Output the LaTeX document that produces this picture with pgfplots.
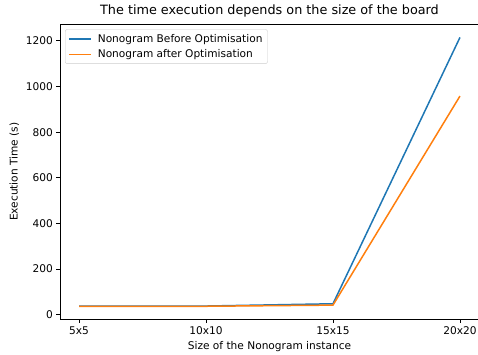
\documentclass[border=0pt]{standalone}
\usepackage{fontspec}
\setmainfont{DejaVu Sans}
\usepackage{pgfplots}
\pgfplotsset{compat=1.18}
\definecolor{mplblue}{HTML}{1F77B4}
\definecolor{mplorange}{HTML}{FF7F0E}
\begin{document}
\begin{tikzpicture}[x=1pt,y=1pt]
\begin{axis}[
  at={(0,0)}, anchor=south west,
  scale only axis, width=419pt, height=295.5pt,
  xmin=-0.15, xmax=3.15, ymin=-21, ymax=1274,
  xtick={0,1,2,3}, xticklabels={5x5,10x10,15x15,20x20},
  ytick={0,200,400,600,800,1000,1200},
  tick align=outside, tick pos=left,
  major tick length=3.5pt,
  tick style={black, line width=0.8pt},
  axis line style={line width=0.8pt},
  /pgf/number format/assume math mode=true,
  /pgf/number format/1000 sep={},
  tick label style={font=\fontsize{10.6}{12}\selectfont},
  label style={font=\fontsize{10.6}{12}\selectfont},
  xlabel={Size of the Nonogram instance},
  ylabel={Execution Time (s)},
  title={The time execution depends on the size of the board},
  title style={font=\fontsize{12.8}{15}\selectfont, yshift=-3pt},
  legend cell align=left,
  legend style={font=\fontsize{10.6}{12}\selectfont, draw=black!20, rounded corners=2pt, at={(0.012,0.982)}, anchor=north west, inner xsep=3pt, inner ysep=2.5pt, row sep=2pt, column sep=4pt},
  legend image code/.code={\draw[#1, line width=1.6pt] (0pt,0pt) -- (22pt,0pt);},
]
\addplot[mplblue, line width=1.5pt] coordinates {(0,38) (1,38) (2,48) (3,1215)};
\addlegendentry{Nonogram Before Optimisation}
\addplot[mplorange, line width=1.5pt] coordinates {(0,37) (1,37) (2,42) (3,958)};
\addlegendentry{Nonogram after Optimisation}
\end{axis}
\pgfresetboundingbox
\path[use as bounding box] (-60,-35.5) rectangle (418,319.5);
\end{tikzpicture}
\end{document}
